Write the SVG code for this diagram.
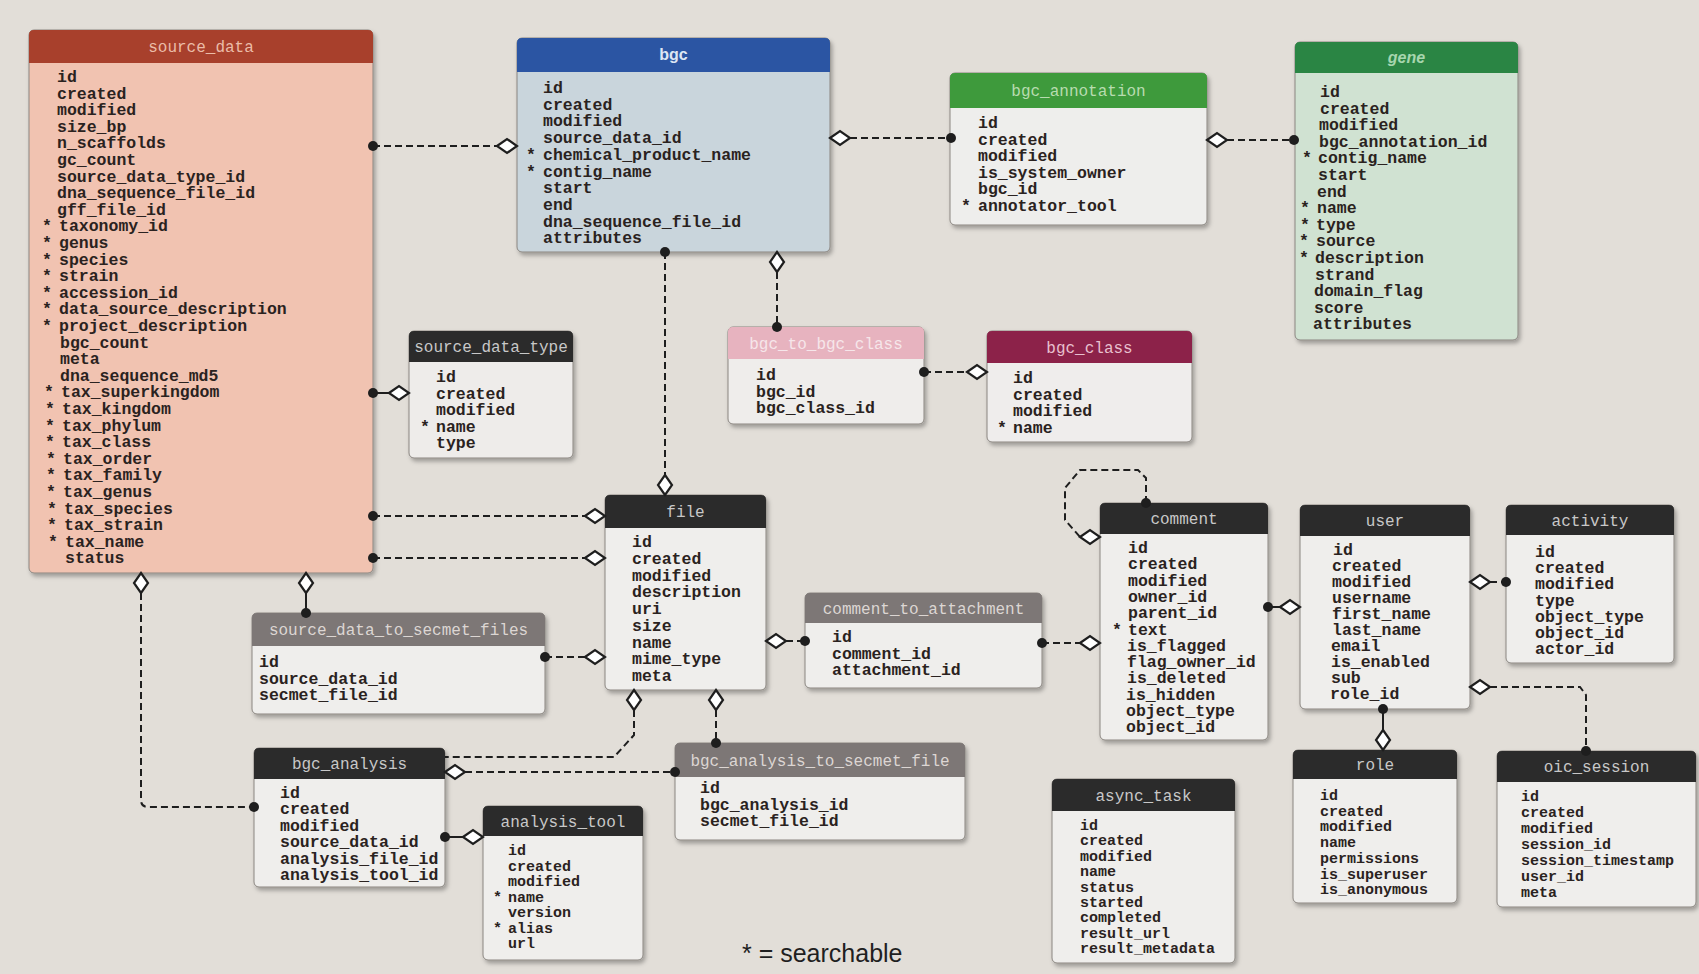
<svg xmlns="http://www.w3.org/2000/svg" width="1699" height="974" viewBox="0 0 1699 974">
<defs>
<style>
.bg{fill:#e2ded8}
.box{stroke:#8a8580;stroke-width:1;filter:url(#sh)}
.f{font-family:"Liberation Mono","DejaVu Sans Mono",monospace;font-size:16.5px;font-weight:bold;fill:#2a2220}
.f2{font-family:"Liberation Mono","DejaVu Sans Mono",monospace;font-size:15px;font-weight:bold;fill:#2a2220}
.t{font-family:"Liberation Mono","DejaVu Sans Mono",monospace;font-size:16px;text-anchor:middle}
.ts{font-family:"Liberation Sans","DejaVu Sans",sans-serif;font-size:16px;font-weight:bold;text-anchor:middle}
.dk{fill:#2b2b2b}
.dkt{fill:#c8c8c8}
.gr{fill:#7d7776}
.grt{fill:#dcd6d3}
.c{stroke:#1e1e1e;stroke-width:2;fill:none;stroke-dasharray:7 4}
.s{stroke:#1e1e1e;stroke-width:2;fill:none}
.dot{fill:#1e1e1e}
.dia{fill:#ffffff;stroke:#1e1e1e;stroke-width:2.2;stroke-linejoin:miter}
.lg{font-family:"Liberation Sans","DejaVu Sans",sans-serif;font-size:25px;fill:#1f1f1f}
</style>
<filter id="sh" x="-10%" y="-10%" width="130%" height="130%"><feDropShadow dx="2" dy="3" stdDeviation="2" flood-color="#000" flood-opacity="0.3"/></filter>
<path id="dh" d="M-10,0 L0,-7 L10,0 L0,7 Z"/>
<path id="dv" d="M0,-10 L7,0 L0,10 L-7,0 Z"/>
</defs>
<rect class="bg" x="0" y="0" width="1699" height="974"/>

<g id="source_data">
<rect class="box" x="29" y="30" width="344" height="543" rx="5" fill="#f1c3b1"/>
<path d="M29,63 V35 Q29,30 34,30 H368 Q373,30 373,35 V63 Z" fill="#a8402c"/>
<text class="t" x="201" y="52" fill="#ebbca8">source_data</text>
<text class="f">
<tspan x="57" y="82">id</tspan>
<tspan x="57" y="98.6">created</tspan>
<tspan x="57" y="115.2">modified</tspan>
<tspan x="57" y="131.8">size_bp</tspan>
<tspan x="57" y="148.4">n_scaffolds</tspan>
<tspan x="57" y="165">gc_count</tspan>
<tspan x="57" y="181.6">source_data_type_id</tspan>
<tspan x="57" y="198.2">dna_sequence_file_id</tspan>
<tspan x="57" y="214.8">gff_file_id</tspan>
<tspan x="59" y="231.4">taxonomy_id</tspan>
<tspan x="59" y="248">genus</tspan>
<tspan x="59" y="264.6">species</tspan>
<tspan x="59" y="281.2">strain</tspan>
<tspan x="59" y="297.8">accession_id</tspan>
<tspan x="59" y="314.4">data_source_description</tspan>
<tspan x="59" y="331">project_description</tspan>
<tspan x="60" y="347.6">bgc_count</tspan>
<tspan x="60" y="364.2">meta</tspan>
<tspan x="60" y="380.8">dna_sequence_md5</tspan>
<tspan x="61" y="397.4">tax_superkingdom</tspan>
<tspan x="62" y="414">tax_kingdom</tspan>
<tspan x="62" y="430.6">tax_phylum</tspan>
<tspan x="62" y="447.2">tax_class</tspan>
<tspan x="63" y="463.8">tax_order</tspan>
<tspan x="63" y="480.4">tax_family</tspan>
<tspan x="63" y="497">tax_genus</tspan>
<tspan x="64" y="513.6">tax_species</tspan>
<tspan x="64" y="530.2">tax_strain</tspan>
<tspan x="65" y="546.8">tax_name</tspan>
<tspan x="65" y="563.4">status</tspan>
</text>
<text class="f">
<tspan x="42" y="231.4">*</tspan>
<tspan x="42" y="248">*</tspan>
<tspan x="42" y="264.6">*</tspan>
<tspan x="42" y="281.2">*</tspan>
<tspan x="42" y="297.8">*</tspan>
<tspan x="42" y="314.4">*</tspan>
<tspan x="42" y="331">*</tspan>
<tspan x="44" y="397.4">*</tspan>
<tspan x="45" y="414">*</tspan>
<tspan x="45" y="430.6">*</tspan>
<tspan x="45" y="447.2">*</tspan>
<tspan x="46" y="463.8">*</tspan>
<tspan x="46" y="480.4">*</tspan>
<tspan x="46" y="497">*</tspan>
<tspan x="47" y="513.6">*</tspan>
<tspan x="47" y="530.2">*</tspan>
<tspan x="48" y="546.8">*</tspan>
</text>
</g>

<g id="bgc">
<rect class="box" x="517" y="38" width="313" height="214" rx="5" fill="#c9d5dc"/>
<path d="M517,72 V43 Q517,38 522,38 H825 Q830,38 830,43 V72 Z" fill="#2b55a3"/>
<text class="ts" x="673.5" y="60" fill="#dde6f4">bgc</text>
<text class="f">
<tspan x="543" y="93">id</tspan>
<tspan x="543" y="109.7">created</tspan>
<tspan x="543" y="126.4">modified</tspan>
<tspan x="543" y="143.1">source_data_id</tspan>
<tspan x="543" y="159.8">chemical_product_name</tspan>
<tspan x="543" y="176.5">contig_name</tspan>
<tspan x="543" y="193.2">start</tspan>
<tspan x="543" y="209.9">end</tspan>
<tspan x="543" y="226.6">dna_sequence_file_id</tspan>
<tspan x="543" y="243.3">attributes</tspan>
</text>
<text class="f"><tspan x="526" y="159.8">*</tspan><tspan x="526" y="176.5">*</tspan></text>
</g>

<g id="bgc_annotation">
<rect class="box" x="950" y="73" width="257" height="152" rx="5" fill="#eeeeec"/>
<path d="M950,108 V78 Q950,73 955,73 H1202 Q1207,73 1207,78 V108 Z" fill="#3e9a3c"/>
<text class="t" x="1078.5" y="96" fill="#b8dcb0">bgc_annotation</text>
<text class="f">
<tspan x="978" y="128">id</tspan>
<tspan x="978" y="144.6">created</tspan>
<tspan x="978" y="161.2">modified</tspan>
<tspan x="978" y="177.8">is_system_owner</tspan>
<tspan x="978" y="194.4">bgc_id</tspan>
<tspan x="978" y="211">annotator_tool</tspan>
</text>
<text class="f"><tspan x="961" y="211">*</tspan></text>
</g>

<g id="gene">
<rect class="box" x="1295" y="42" width="223" height="298" rx="5" fill="#d0e2d2"/>
<path d="M1295,73 V47 Q1295,42 1300,42 H1513 Q1518,42 1518,47 V73 Z" fill="#2a8544"/>
<text class="ts" x="1406.5" y="63" fill="#a6d6ae" font-style="italic">gene</text>
<text class="f">
<tspan x="1320" y="97">id</tspan>
<tspan x="1320" y="113.6">created</tspan>
<tspan x="1319" y="130.2">modified</tspan>
<tspan x="1319" y="146.8">bgc_annotation_id</tspan>
<tspan x="1318" y="163.4">contig_name</tspan>
<tspan x="1318" y="180">start</tspan>
<tspan x="1317" y="196.6">end</tspan>
<tspan x="1317" y="213.2">name</tspan>
<tspan x="1316" y="229.8">type</tspan>
<tspan x="1316" y="246.4">source</tspan>
<tspan x="1315" y="263">description</tspan>
<tspan x="1315" y="279.6">strand</tspan>
<tspan x="1314" y="296.2">domain_flag</tspan>
<tspan x="1314" y="312.8">score</tspan>
<tspan x="1313" y="329.4">attributes</tspan>
</text>
<text class="f"><tspan x="1302" y="163.4">*</tspan><tspan x="1300" y="213.2">*</tspan><tspan x="1300" y="229.8">*</tspan><tspan x="1299" y="246.4">*</tspan><tspan x="1299" y="263">*</tspan></text>
</g>

<g id="source_data_type">
<rect class="box" x="409" y="331" width="164" height="127" rx="5" fill="#eeecea"/>
<path d="M409,362 V336 Q409,331 414,331 H568 Q573,331 573,336 V362 Z" class="dk"/>
<text class="t dkt" x="491" y="352">source_data_type</text>
<text class="f">
<tspan x="436" y="382">id</tspan>
<tspan x="436" y="398.6">created</tspan>
<tspan x="436" y="415.2">modified</tspan>
<tspan x="436" y="431.8">name</tspan>
<tspan x="436" y="448.4">type</tspan>
</text>
<text class="f"><tspan x="420" y="431.8">*</tspan></text>
</g>

<g id="bgc_to_bgc_class">
<rect class="box" x="728" y="327" width="196" height="97" rx="5" fill="#efedeb"/>
<path d="M728,359 V332 Q728,327 733,327 H919 Q924,327 924,332 V359 Z" fill="#e7b3bf"/>
<text class="t" x="826" y="348.5" fill="#f6e6ea">bgc_to_bgc_class</text>
<text class="f">
<tspan x="756" y="380">id</tspan>
<tspan x="756" y="396.6">bgc_id</tspan>
<tspan x="756" y="413.2">bgc_class_id</tspan>
</text>
</g>

<g id="bgc_class">
<rect class="box" x="987" y="331" width="205" height="111" rx="5" fill="#efedec"/>
<path d="M987,363 V336 Q987,331 992,331 H1187 Q1192,331 1192,336 V363 Z" fill="#8c2249"/>
<text class="t" x="1089.5" y="352.5" fill="#e8c0cf">bgc_class</text>
<text class="f">
<tspan x="1013" y="383">id</tspan>
<tspan x="1013" y="399.6">created</tspan>
<tspan x="1013" y="416.2">modified</tspan>
<tspan x="1013" y="432.8">name</tspan>
</text>
<text class="f"><tspan x="997" y="432.8">*</tspan></text>
</g>

<g id="file">
<rect class="box" x="605" y="495" width="161" height="195" rx="5" fill="#efeeec"/>
<path d="M605,528 V500 Q605,495 610,495 H761 Q766,495 766,500 V528 Z" class="dk"/>
<text class="t dkt" x="685.5" y="517">file</text>
<text class="f">
<tspan x="632" y="547">id</tspan>
<tspan x="632" y="563.75">created</tspan>
<tspan x="632" y="580.5">modified</tspan>
<tspan x="632" y="597.25">description</tspan>
<tspan x="632" y="614">uri</tspan>
<tspan x="632" y="630.75">size</tspan>
<tspan x="632" y="647.5">name</tspan>
<tspan x="632" y="664.25">mime_type</tspan>
<tspan x="632" y="681">meta</tspan>
</text>
</g>

<g id="source_data_to_secmet_files">
<rect class="box" x="252" y="613" width="293" height="101" rx="5" fill="#efeeec"/>
<path d="M252,646 V618 Q252,613 257,613 H540 Q545,613 545,618 V646 Z" class="gr"/>
<text class="t grt" x="398.5" y="635">source_data_to_secmet_files</text>
<text class="f">
<tspan x="259" y="667">id</tspan>
<tspan x="259" y="683.6">source_data_id</tspan>
<tspan x="259" y="700.2">secmet_file_id</tspan>
</text>
</g>

<g id="comment_to_attachment">
<rect class="box" x="805" y="593" width="237" height="95" rx="5" fill="#efeeec"/>
<path d="M805,623 V598 Q805,593 810,593 H1037 Q1042,593 1042,598 V623 Z" class="gr"/>
<text class="t grt" x="923.5" y="613.5">comment_to_attachment</text>
<text class="f">
<tspan x="832" y="642">id</tspan>
<tspan x="832" y="658.6">comment_id</tspan>
<tspan x="832" y="675.2">attachment_id</tspan>
</text>
</g>

<g id="bgc_analysis_to_secmet_file">
<rect class="box" x="675" y="743" width="290" height="97" rx="5" fill="#efeeec"/>
<path d="M675,777 V748 Q675,743 680,743 H960 Q965,743 965,748 V777 Z" class="gr"/>
<text class="t grt" x="820" y="765.5">bgc_analysis_to_secmet_file</text>
<text class="f">
<tspan x="700" y="793">id</tspan>
<tspan x="700" y="809.6">bgc_analysis_id</tspan>
<tspan x="700" y="826.2">secmet_file_id</tspan>
</text>
</g>

<g id="bgc_analysis">
<rect class="box" x="254" y="748" width="191" height="139" rx="5" fill="#efeeec"/>
<path d="M254,779 V753 Q254,748 259,748 H440 Q445,748 445,753 V779 Z" class="dk"/>
<text class="t dkt" x="349.5" y="769">bgc_analysis</text>
<text class="f">
<tspan x="280" y="798">id</tspan>
<tspan x="280" y="814.4">created</tspan>
<tspan x="280" y="830.8">modified</tspan>
<tspan x="280" y="847.2">source_data_id</tspan>
<tspan x="280" y="863.6">analysis_file_id</tspan>
<tspan x="280" y="880">analysis_tool_id</tspan>
</text>
</g>

<g id="analysis_tool">
<rect class="box" x="483" y="806" width="160" height="154" rx="5" fill="#efeeec"/>
<path d="M483,836 V811 Q483,806 488,806 H638 Q643,806 643,811 V836 Z" class="dk"/>
<text class="t dkt" x="563" y="826.5">analysis_tool</text>
<text class="f2">
<tspan x="508" y="855">id</tspan>
<tspan x="508" y="870.5">created</tspan>
<tspan x="508" y="886">modified</tspan>
<tspan x="508" y="901.5">name</tspan>
<tspan x="508" y="917">version</tspan>
<tspan x="508" y="932.5">alias</tspan>
<tspan x="508" y="948">url</tspan>
</text>
<text class="f2"><tspan x="493" y="901.5">*</tspan><tspan x="493" y="932.5">*</tspan></text>
</g>

<g id="comment">
<rect class="box" x="1100" y="503" width="168" height="237" rx="5" fill="#efeeec"/>
<path d="M1100,534 V508 Q1100,503 1105,503 H1263 Q1268,503 1268,508 V534 Z" class="dk"/>
<text class="t dkt" x="1184" y="524">comment</text>
<text class="f">
<tspan x="1128" y="553">id</tspan>
<tspan x="1128" y="569.3">created</tspan>
<tspan x="1128" y="585.6">modified</tspan>
<tspan x="1128" y="601.9">owner_id</tspan>
<tspan x="1128" y="618.2">parent_id</tspan>
<tspan x="1128" y="634.5">text</tspan>
<tspan x="1127" y="650.8">is_flagged</tspan>
<tspan x="1127" y="667.1">flag_owner_id</tspan>
<tspan x="1127" y="683.4">is_deleted</tspan>
<tspan x="1126" y="699.7">is_hidden</tspan>
<tspan x="1126" y="716">object_type</tspan>
<tspan x="1126" y="732.3">object_id</tspan>
</text>
<text class="f"><tspan x="1112" y="634.5">*</tspan></text>
</g>

<g id="user">
<rect class="box" x="1300" y="505" width="170" height="204" rx="5" fill="#efeeec"/>
<path d="M1300,536 V510 Q1300,505 1305,505 H1465 Q1470,505 1470,510 V536 Z" class="dk"/>
<text class="t dkt" x="1385" y="526">user</text>
<text class="f">
<tspan x="1333" y="555">id</tspan>
<tspan x="1332" y="571">created</tspan>
<tspan x="1332" y="587">modified</tspan>
<tspan x="1332" y="603">username</tspan>
<tspan x="1332" y="619">first_name</tspan>
<tspan x="1332" y="635">last_name</tspan>
<tspan x="1331" y="651">email</tspan>
<tspan x="1331" y="667">is_enabled</tspan>
<tspan x="1331" y="683">sub</tspan>
<tspan x="1330" y="699">role_id</tspan>
</text>
</g>

<g id="activity">
<rect class="box" x="1506" y="505" width="168" height="158" rx="5" fill="#efeeec"/>
<path d="M1506,535 V510 Q1506,505 1511,505 H1669 Q1674,505 1674,510 V535 Z" class="dk"/>
<text class="t dkt" x="1590" y="525.5">activity</text>
<text class="f">
<tspan x="1535" y="557">id</tspan>
<tspan x="1535" y="573.2">created</tspan>
<tspan x="1535" y="589.4">modified</tspan>
<tspan x="1535" y="605.6">type</tspan>
<tspan x="1535" y="621.8">object_type</tspan>
<tspan x="1535" y="638">object_id</tspan>
<tspan x="1535" y="654.2">actor_id</tspan>
</text>
</g>

<g id="role">
<rect class="box" x="1293" y="750" width="164" height="153" rx="5" fill="#efeeec"/>
<path d="M1293,779 V755 Q1293,750 1298,750 H1452 Q1457,750 1457,755 V779 Z" class="dk"/>
<text class="t dkt" x="1375" y="770">role</text>
<text class="f2">
<tspan x="1320" y="800">id</tspan>
<tspan x="1320" y="815.7">created</tspan>
<tspan x="1320" y="831.4">modified</tspan>
<tspan x="1320" y="847.1">name</tspan>
<tspan x="1320" y="862.8">permissions</tspan>
<tspan x="1320" y="878.5">is_superuser</tspan>
<tspan x="1320" y="894.2">is_anonymous</tspan>
</text>
</g>

<g id="oic_session">
<rect class="box" x="1497" y="751" width="199" height="156" rx="5" fill="#efeeec"/>
<path d="M1497,782 V756 Q1497,751 1502,751 H1691 Q1696,751 1696,756 V782 Z" class="dk"/>
<text class="t dkt" x="1596.5" y="772">oic_session</text>
<text class="f2">
<tspan x="1521" y="801">id</tspan>
<tspan x="1521" y="817">created</tspan>
<tspan x="1521" y="833">modified</tspan>
<tspan x="1521" y="849">session_id</tspan>
<tspan x="1521" y="865">session_timestamp</tspan>
<tspan x="1521" y="881">user_id</tspan>
<tspan x="1521" y="897">meta</tspan>
</text>
</g>

<g id="async_task">
<rect class="box" x="1052" y="779" width="183" height="184" rx="5" fill="#efeeec"/>
<path d="M1052,811 V784 Q1052,779 1057,779 H1230 Q1235,779 1235,784 V811 Z" class="dk"/>
<text class="t dkt" x="1143.5" y="800.5">async_task</text>
<text class="f2">
<tspan x="1080" y="830">id</tspan>
<tspan x="1080" y="845.4">created</tspan>
<tspan x="1080" y="860.8">modified</tspan>
<tspan x="1080" y="876.2">name</tspan>
<tspan x="1080" y="891.6">status</tspan>
<tspan x="1080" y="907">started</tspan>
<tspan x="1080" y="922.4">completed</tspan>
<tspan x="1080" y="937.8">result_url</tspan>
<tspan x="1080" y="953.2">result_metadata</tspan>
</text>
</g>

<g id="connectors">
<path class="c" d="M373,146 H497"/>
<circle class="dot" cx="373" cy="146" r="5"/>
<use href="#dh" x="507" y="146" class="dia"/>

<path class="c" d="M850,138 H951"/>
<use href="#dh" x="840" y="138" class="dia"/>
<circle class="dot" cx="951" cy="138" r="5"/>

<path class="c" d="M1227,140 H1294"/>
<use href="#dh" x="1217" y="140" class="dia"/>
<circle class="dot" cx="1294" cy="140" r="5"/>

<path class="s" d="M373,393 H389"/>
<circle class="dot" cx="373" cy="393" r="5"/>
<use href="#dh" x="399" y="393" class="dia"/>

<path class="c" d="M665,252 V475"/>
<circle class="dot" cx="665" cy="252" r="5"/>
<use href="#dv" x="665" y="485" class="dia"/>

<path class="c" d="M777,272 V327"/>
<use href="#dv" x="777" y="262" class="dia"/>
<circle class="dot" cx="777" cy="327" r="5"/>

<path class="c" d="M924,372 H967"/>
<circle class="dot" cx="924" cy="372" r="5"/>
<use href="#dh" x="977" y="372" class="dia"/>

<path class="c" d="M373,516 H585"/>
<circle class="dot" cx="373" cy="516" r="5"/>
<use href="#dh" x="595" y="516" class="dia"/>

<path class="c" d="M373,558 H585"/>
<circle class="dot" cx="373" cy="558" r="5"/>
<use href="#dh" x="595" y="558" class="dia"/>

<path class="s" d="M306,593 V613"/>
<use href="#dv" x="306" y="583" class="dia"/>
<circle class="dot" cx="306" cy="613" r="5"/>

<path class="c" d="M545,657 H585"/>
<circle class="dot" cx="545" cy="657" r="5"/>
<use href="#dh" x="595" y="657" class="dia"/>

<path class="c" d="M141,593 V800 Q141,807 148,807 H254"/>
<use href="#dv" x="141" y="583" class="dia"/>
<circle class="dot" cx="254" cy="807" r="5"/>

<path class="c" d="M634,710 V735 L614,757 H445"/>
<use href="#dv" x="634" y="700" class="dia"/>

<path class="c" d="M465,772 H675"/>
<use href="#dh" x="455" y="772" class="dia"/>
<circle class="dot" cx="675" cy="772" r="5"/>

<path class="c" d="M716,710 V743"/>
<use href="#dv" x="716" y="700" class="dia"/>
<circle class="dot" cx="716" cy="743" r="5"/>

<path class="s" d="M445,837 H463"/>
<circle class="dot" cx="445" cy="837" r="5"/>
<use href="#dh" x="473" y="837" class="dia"/>

<path class="c" d="M786,641 H805"/>
<use href="#dh" x="776" y="641" class="dia"/>
<circle class="dot" cx="805" cy="641" r="5"/>

<path class="c" d="M1042,643 H1080"/>
<circle class="dot" cx="1042" cy="643" r="5"/>
<use href="#dh" x="1090" y="643" class="dia"/>

<path class="c" d="M1146,503 V478 L1138,470 H1080 L1065,488 V520 L1080,537"/>
<circle class="dot" cx="1146" cy="503" r="5"/>
<use href="#dh" x="1090" y="537" class="dia"/>

<path class="s" d="M1268,607 H1280"/>
<circle class="dot" cx="1268" cy="607" r="5"/>
<use href="#dh" x="1290" y="607" class="dia"/>

<path class="s" d="M1383,709 V730"/>
<circle class="dot" cx="1383" cy="709" r="5"/>
<use href="#dv" x="1383" y="740" class="dia"/>

<path class="c" d="M1490,582 H1506"/>
<use href="#dh" x="1480" y="582" class="dia"/>
<circle class="dot" cx="1506" cy="582" r="5"/>

<path class="c" d="M1490,687 H1580 L1586,695 V751"/>
<use href="#dh" x="1480" y="687" class="dia"/>
<circle class="dot" cx="1586" cy="751" r="5"/>
</g>

<text class="lg" x="742" y="962">* = searchable</text>
</svg>
